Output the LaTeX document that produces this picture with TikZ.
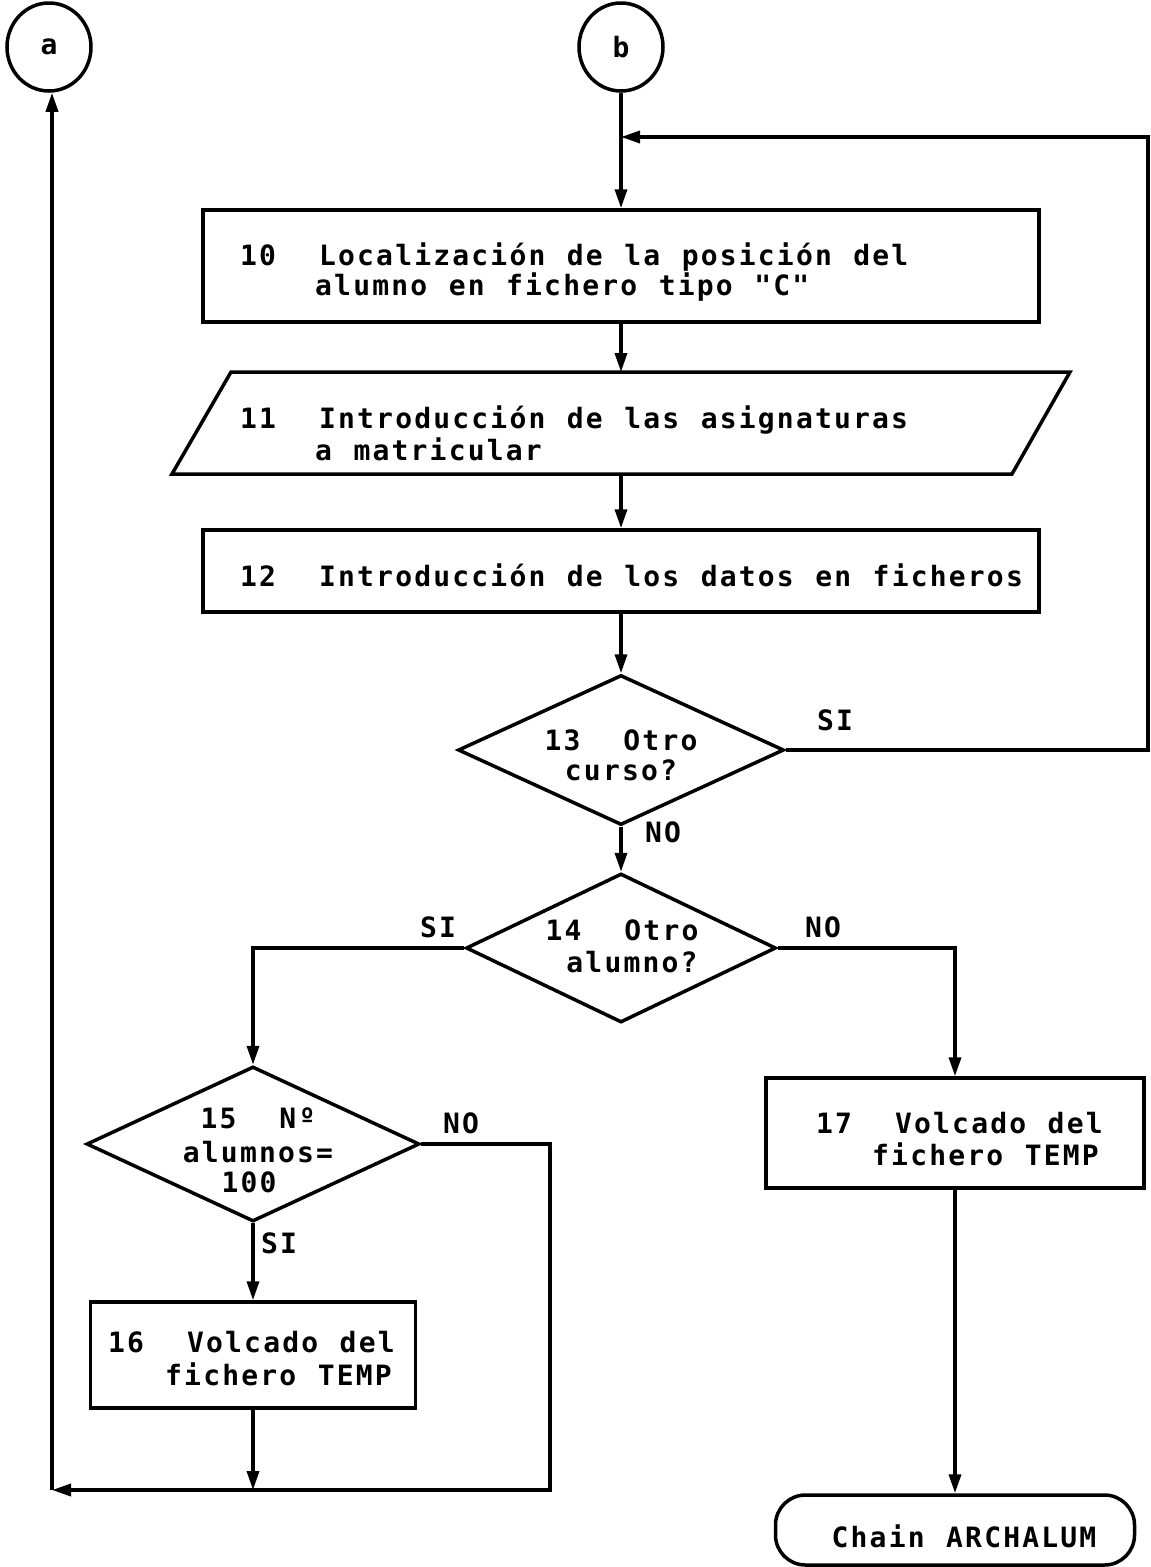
\documentclass[tikz,border=0pt]{standalone}
\usepackage{fontspec}
\newfontfamily\plotfont[LetterSpace=7.8,WordSpace=1.13]{DejaVu Sans Mono}
\usetikzlibrary{arrows.meta,shapes.geometric}

\begin{document}
\begin{tikzpicture}[x=1pt,y=-1pt,
  every node/.style={font=\plotfont\bfseries\fontsize{28}{32}\selectfont},
  flow/.style={draw, line width=3.5pt, -{Triangle[length=19pt,width=12pt]}},
  conn/.style={draw, ellipse, minimum width=84pt, minimum height=88pt, inner sep=0pt, line width=3.5pt},
  procbox/.style={draw, rectangle, inner sep=0pt, line width=3.5pt},
  decision/.style={draw, diamond, inner sep=0pt, line width=3.5pt},
  endbox/.style={draw, rectangle, rounded corners=30pt, inner sep=0pt, line width=3.5pt},
  ln/.style={inner sep=0pt, text height=20pt, text depth=0pt, anchor=west},
  cln/.style={inner sep=0pt, text height=20pt, text depth=0pt, anchor=center},
]
\useasboundingbox (0,0) rectangle (1151,1567);

% connectors a and b
\node[conn] (a) at (49,47) {a};
\node[conn] (b) at (621,47) {b};

% 10: locate the student
\node[procbox, minimum width=836pt, minimum height=112pt] (b10) at (621,266) {};
\node[ln] (t10a) at (240,255) {10\ \ Localización de la posición del};
\node[ln] (t10b) at (315,285) {alumno en fichero tipo "C"};

% 11: input (parallelogram)
\draw[line width=3.5pt] (231,372) -- (1070,372) -- (1012,474) -- (172,474) -- cycle;
\coordinate (p11n) at (621,372);
\coordinate (p11s) at (621,474);
\node[ln] (t11a) at (240,418) {11\ \ Introducción de las asignaturas};
\node[ln] (t11b) at (315,450) {a matricular};

% 12: store data
\node[procbox, minimum width=836pt, minimum height=82pt] (b12) at (621,571) {};
\node[ln] (t12) at (240,576) {12\ \ Introducción de los datos en ficheros};

% 13: decision
\node[decision, minimum width=326pt, minimum height=150pt] (d13) at (621,750) {};
\node[cln] (t13a) at (621,740) {13\ \ Otro};
\node[cln] (t13b) at (621,770) {curso?};

% 14: decision
\node[decision, minimum width=310pt, minimum height=149pt] (d14) at (621,948) {};
\node[cln] (t14a) at (622,930) {14\ \ Otro};
\node[cln] (t14b) at (632,962) {alumno?};

% 15: decision
\node[decision, minimum width=333pt, minimum height=155pt] (d15) at (253,1144) {};
\node[cln] (t15a) at (258,1118) {15\ \ Nº};
\node[cln] (t15b) at (258,1152) {alumnos=};
\node[cln] (t15c) at (249,1182) {100};

% 16 and 17: dump TEMP
\node[procbox, minimum width=325pt, minimum height=106pt] (b16) at (253,1355) {};
\node[ln] (t16a) at (108,1342) {16\ \ Volcado del};
\node[ln] (t16b) at (165,1375) {fichero TEMP};

\node[procbox, minimum width=378pt, minimum height=110pt] (b17) at (955,1133) {};
\node[ln] (t17a) at (816,1123) {17\ \ Volcado del};
\node[ln] (t17b) at (872,1155) {fichero TEMP};

% terminal
\node[endbox, minimum width=359pt, minimum height=70pt] (term) at (955,1530) {};
\node[cln] (tT) at (964,1537) {Chain ARCHALUM};

% branch labels
\node[cln] (l13si) at (835,720) {SI};
\node[cln] (l13no) at (663,832) {NO};
\node[cln] (l14si) at (438,927) {SI};
\node[cln] (l14no) at (823,927) {NO};
\node[cln] (l15no) at (461,1123) {NO};
\node[cln] (l15si) at (279,1243) {SI};

% routing points
\coordinate (rr) at (1148,137);
\coordinate (ll) at (52,1490);
\coordinate (rn) at (550,1490);

% connectors
\draw[flow] (b.south) -- (b10.north);
\draw[flow] (d13.east) -- (rr |- d13.east) -- (rr) -- (rr -| b.south);
\draw[flow] (b10.south) -- (p11n);
\draw[flow] (p11s) -- (b12.north);
\draw[flow] (b12.south) -- (d13.north);
\draw[flow] (d13.south) -- (d14.north);
\draw[flow] (d14.west) -- (d14.west -| d15.north) -- (d15.north);
\draw[flow] (d14.east) -- (d14.east -| b17.north) -- (b17.north);
\draw[flow] (d15.south) -- (b16.north);
\draw[flow] (b16.south) -- (b16.south |- ll);
\draw[flow] (d15.east) -- (d15.east -| rn) -- (rn) -- (ll);
\draw[flow] (ll) -- (ll |- a.south);
\draw[flow] (b17.south) -- (term.north);
\end{tikzpicture}
\end{document}
